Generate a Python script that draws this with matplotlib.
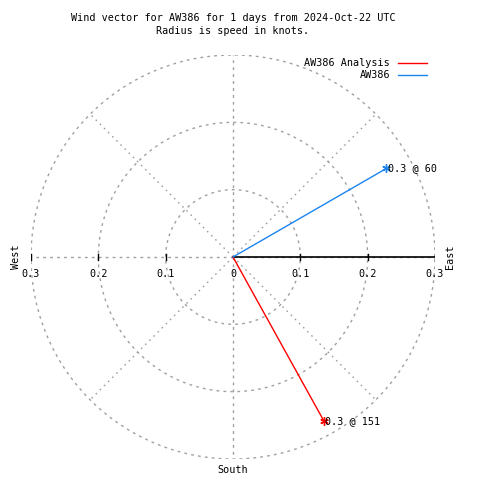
import numpy as np
import matplotlib
matplotlib.use("Agg")
import matplotlib.pyplot as plt

# wind vectors: speed (knots) and bearing (degrees clockwise from north)
names = ["AW386 Analysis", "AW386"]
speeds = [0.279, 0.263]
bearings = [151, 60]
colors = ["#ff0000", "#1a84f0"]

rmax = 0.3
rings = [0.1, 0.2, 0.3]
spokes = [0, 45, 90, 135, 180, 225, 270, 315]
tick_vals = [0.1, 0.2, 0.3]

plt.rcParams['font.family'] = ['DejaVu Sans Mono']
FS = 7.3
grid_kw = dict(color="#a0a0a0", lw=1.0, ls=(0, (2, 3)))
diag_kw = dict(color="#a0a0a0", lw=1.0, ls=(0, (1.2, 3)))

fig = plt.figure(figsize=(4.8, 4.8), dpi=100)
ax = fig.add_axes([31 / 480, 21 / 480, 404 / 480, 404 / 480])
ax.set_xlim(-rmax, rmax)
ax.set_ylim(-rmax, rmax)
ax.set_aspect("equal")
ax.axis("off")

# grid circles
t = np.linspace(0, 2 * np.pi, 400)
for r in rings:
    ax.plot(r * np.cos(t), r * np.sin(t), **grid_kw)
# spokes
for a in spokes:
    kw = grid_kw if a % 90 == 0 else diag_kw
    ax.plot([0, rmax * np.sin(np.radians(a))], [0, rmax * np.cos(np.radians(a))], **kw)

# horizontal axis (solid to the east)
ax.plot([0, rmax], [0, 0], color="black", lw=1.2)
for v in tick_vals:
    for s in (1, -1):
        ax.plot([s * v, s * v], [-0.005, 0.005], color="black", lw=1.0)
ax.text(0, -0.025, "0", ha="center", va="center", fontsize=FS)
for v in tick_vals:
    ax.text(v, -0.025, f"{v:.1f}", ha="center", va="center", fontsize=FS)
    ax.text(-v, -0.025, f"{v:.1f}", ha="center", va="center", fontsize=FS)

ax.text(-0.323, 0, "West", rotation=90, ha="center", va="center", fontsize=FS)
ax.text(0.323, 0, "East", rotation=90, ha="center", va="center", fontsize=FS)
ax.text(0, -0.316, "South", ha="center", va="center", fontsize=FS)

# vectors
for name, s, b, c in zip(names, speeds, bearings, colors):
    x = s * np.sin(np.radians(b))
    y = s * np.cos(np.radians(b))
    ax.plot([0, x], [0, y], color=c, lw=1.0)
    ax.plot([x], [y], marker=(6, 2, 0), color=c, ms=6, mew=1.0)
    ax.text(x + 0.002, y, f"{s:.1f} @ {b}", ha="left", va="center", fontsize=FS)

# legend
for i, (name, c) in enumerate(zip(names, colors)):
    yy = (480 - 63 - 12 * i) / 480
    fig.text(390 / 480, yy, name, ha="right", va="center", fontsize=FS)
    fig.add_artist(plt.Line2D([398 / 480, 427 / 480], [yy, yy], color=c, lw=1.0))

fig.text(233 / 480, (480 - 18) / 480, "Wind vector for AW386 for 1 days from 2024-Oct-22 UTC",
         ha="center", va="center", fontsize=FS)
fig.text(233 / 480, (480 - 31) / 480, "Radius is speed in knots.",
         ha="center", va="center", fontsize=FS)

plt.savefig("out.png", dpi=100)
